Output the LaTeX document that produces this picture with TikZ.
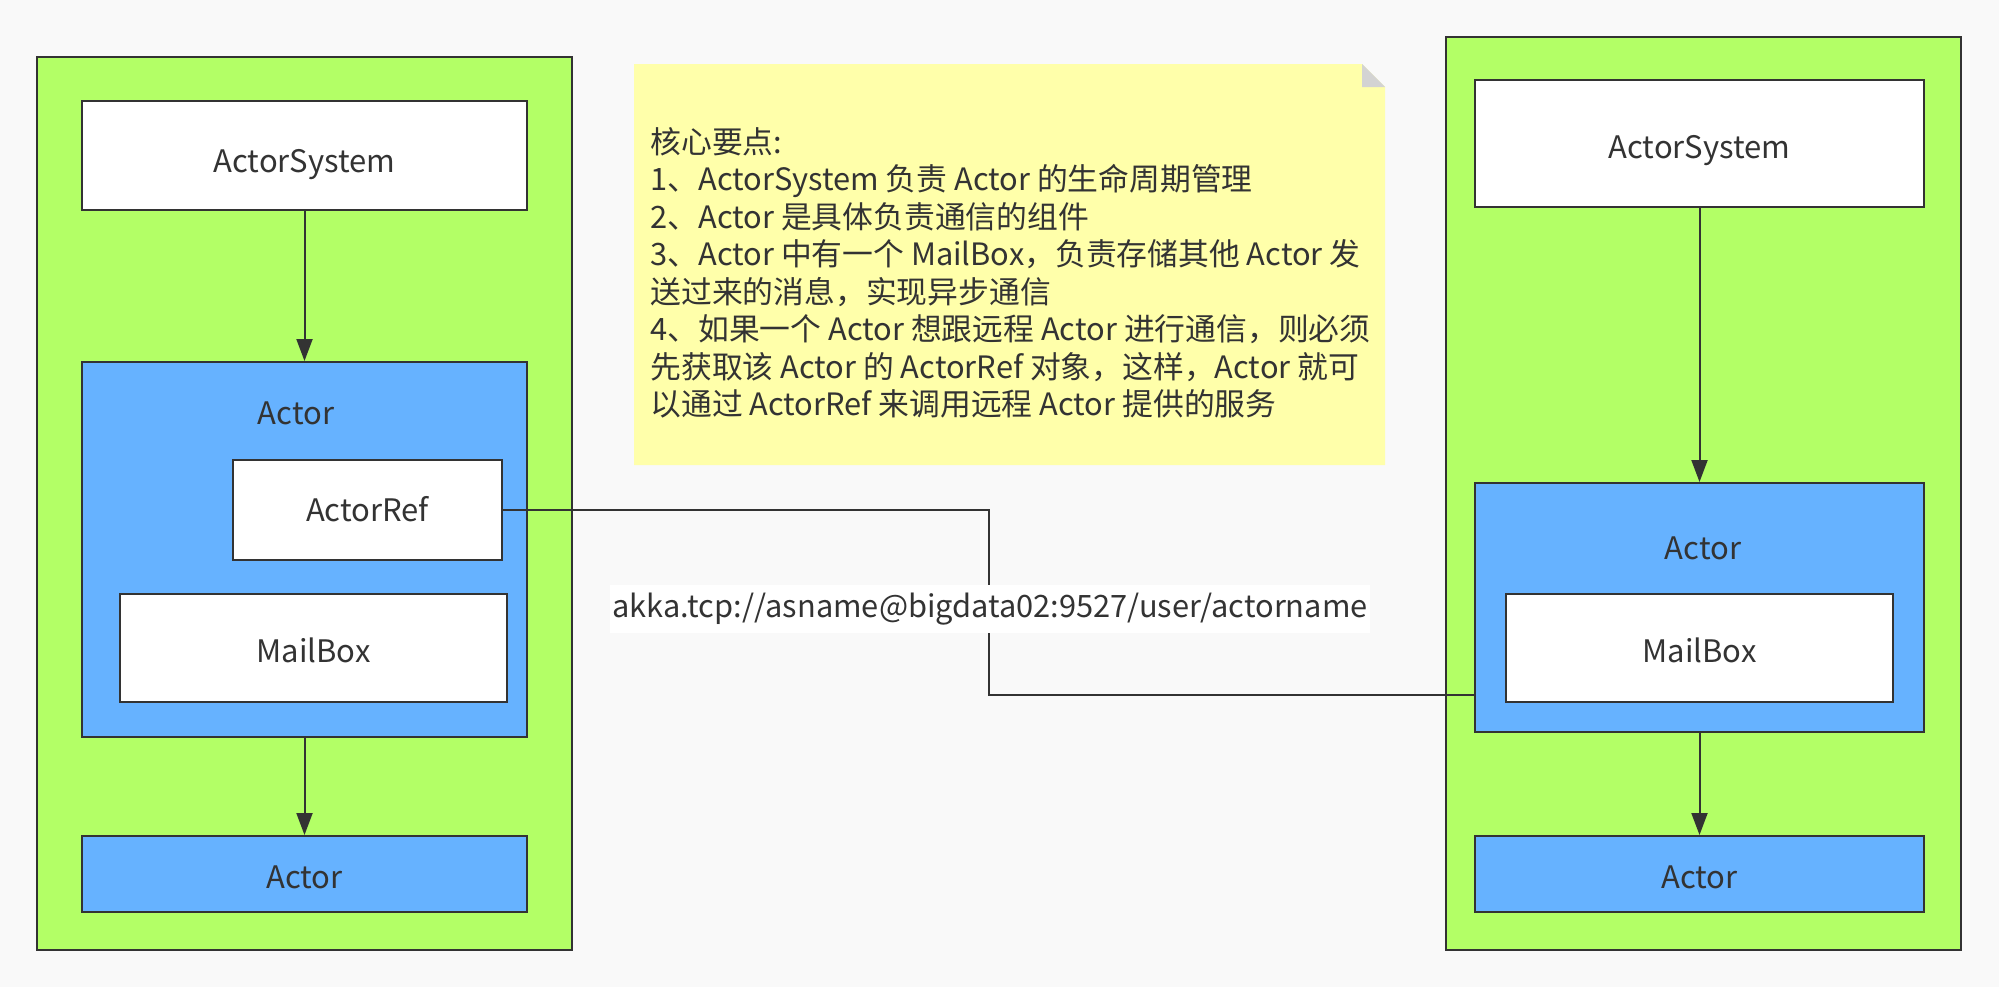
\documentclass[tikz,border=0pt]{standalone}
\usepackage{fontspec}
\setmainfont{Noto Sans CJK SC}
\usetikzlibrary{arrows.meta}
\definecolor{bgc}{HTML}{F9F9F9}
\definecolor{greenc}{HTML}{B3FF66}
\definecolor{bluec}{HTML}{66B2FF}
\definecolor{notec}{HTML}{FFFFAA}
\definecolor{inkc}{HTML}{333333}
\definecolor{foldc}{HTML}{D3D3D3}
\tikzset{
  boxbase/.style={draw=inkc, line width=1pt, inner sep=0pt, text=inkc, font=\fontsize{15.5}{19}\selectfont},
  outerbox/.style={boxbase, fill=greenc},
  whitebox/.style={boxbase, fill=white},
  bluebox/.style={boxbase, fill=bluec},
  lbl/.style={text=inkc, inner sep=0pt, font=\fontsize{15.5}{19}\selectfont},
  conn/.style={draw=inkc, line width=1pt},
  arr/.style={conn, -{Triangle[length=11pt,width=8pt]}},
}
\newcommand{\dn}[2]{\smash{\raisebox{-#1pt}{#2}}}
\begin{document}
\begin{tikzpicture}[x=0.5pt,y=-0.5pt]
\fill[bgc] (0,0) rectangle (1999,987);
\useasboundingbox (0,0) rectangle (1999,987);

% left system
\node[outerbox, minimum width=267.5pt, minimum height=446.5pt] (lout) at (304.5,503.5) {};
\node[whitebox, minimum width=222.5pt, minimum height=54.5pt] (lsys) at (304.5,155.5) {\dn{8.4}{ActorSystem}};
\node[bluebox, minimum width=222.5pt, minimum height=187.5pt] (lact) at (304.5,549.5) {};
\node[lbl] (lactlbl) at (296,413) {Actor};
\node[whitebox, minimum width=134.5pt, minimum height=50pt] (aref) at (367.5,510) {\dn{5.8}{ActorRef}};
\node[whitebox, minimum width=193.5pt, minimum height=54pt] (lmail) at (313.5,648) {\dn{7.4}{MailBox}};
\node[bluebox, minimum width=222.5pt, minimum height=38pt] (lact2) at (304.5,874) {\dn{7.4}{Actor}};
\draw[arr] (lsys.south) -- (lact.north);
\draw[arr] (lact.south) -- (lact2.north);

% right system
\node[outerbox, minimum width=257.5pt, minimum height=456.5pt] (rout) at (1703.5,493.5) {};
\node[whitebox, minimum width=224.5pt, minimum height=63.5pt] (rsys) at (1699.5,143.5) {\dn{7.4}{ActorSystem}};
\node[bluebox, minimum width=224.5pt, minimum height=124.5pt] (ract) at (1699.5,607.5) {};
\node[lbl] (ractlbl) at (1703,548) {Actor};
\node[whitebox, minimum width=193.5pt, minimum height=54pt] (rmail) at (1699.5,648) {\dn{7.4}{MailBox}};
\node[bluebox, minimum width=224.5pt, minimum height=38pt] (ract2) at (1699.5,874) {\dn{7.4}{Actor}};
\draw[arr] (rsys.south) -- (ract.north);
\draw[arr] (ract.south) -- (ract2.north);

% connector
\coordinate (m1) at (989,510);
\coordinate (m2) at (989,695);
\draw[conn] (aref.east) -- (m1) -- (m2) -- (ract.west |- m2);
\node[fill=white, text=inkc, inner xsep=1pt, minimum height=24pt, font=\fontsize{15.4}{19}\selectfont] (url) at (990,609) {akka.tcp://asname@bigdata02:9527/user/actorname};

% note
\fill[notec] (634,64) -- (1362,64) -- (1385,87) -- (1385,465) -- (634,465) -- cycle;
\fill[foldc] (1362,64) -- (1362,87) -- (1385,87) -- cycle;
\coordinate (notetl) at (650,127);
\node[anchor=north west, inner sep=0pt, align=left, text=inkc, font=\fontsize{15.4}{18.75}\selectfont] (notetext) at (notetl) {核心要点:\\
1、ActorSystem 负责 Actor 的生命周期管理\\
2、Actor 是具体负责通信的组件\\
3、Actor 中有一个 MailBox，负责存储其他 Actor 发\\
送过来的消息，实现异步通信\\
4、如果一个 Actor 想跟远程 Actor 进行通信，则必须\\
先获取该 Actor 的 ActorRef 对象，这样，Actor 就可\\
以通过 ActorRef 来调用远程 Actor 提供的服务};
\end{tikzpicture}
\end{document}
